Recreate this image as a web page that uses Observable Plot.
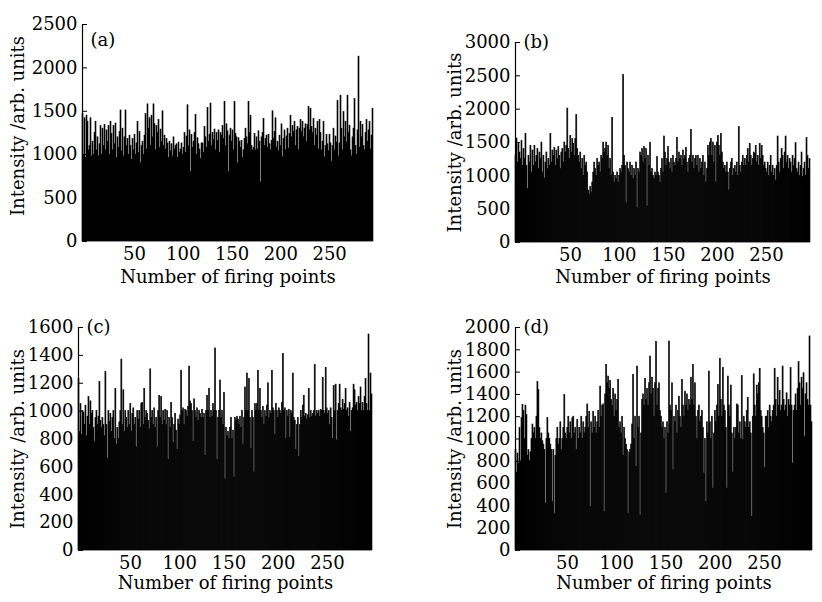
<!DOCTYPE html>
<html><head><meta charset="utf-8">
<script src="https://cdn.jsdelivr.net/npm/d3@7"></script>
<script src="https://cdn.jsdelivr.net/npm/@observablehq/plot@0.6"></script>
<style>
body{margin:0;background:#fff;}
#wrap{position:relative;width:822px;height:602px;overflow:hidden;background:#fff;}
.panel{position:absolute;}
</style></head><body><div id="wrap"></div>
<script>
// ---- data ----
const valuesA = [
1470,1000,1420,960,1450,1380,1050,1100,1420,980,
1150,1000,1250,1380,1050,1200,980,1120,1330,1000,
1300,1100,1340,1050,1280,1150,1330,1000,1380,1240,
1050,1330,1120,1360,960,1200,1080,1260,1510,1040,
1300,980,1200,1510,1100,1180,1000,1220,1100,940,
1180,1050,1230,1000,1130,1380,1020,1260,900,1100,
1150,1000,1220,1470,1060,1580,1300,1420,1100,1450,
1200,1580,1350,1050,1330,1250,1400,1080,1290,1150,
1500,1100,1220,1060,1180,1130,960,1150,1040,1120,
980,1200,1060,1100,1120,960,1140,1020,1060,1130,
1000,1080,1250,1020,1210,1570,1100,1280,800,1230,
1080,1150,1250,1460,1000,1190,1120,1060,950,1130,
1130,1020,1320,1200,1080,1540,1150,1230,1590,1100,
1250,1170,1290,1050,1250,1160,1280,1020,1250,1220,
1330,1180,1610,1100,1350,1270,800,1220,1300,1150,
1280,1050,1610,1240,1200,900,1190,1150,1080,1160,
960,1050,1180,1300,1200,1120,1610,1250,1450,1100,
1050,1080,1240,1050,1200,1060,1270,1150,680,1200,
1250,1410,1100,1180,1220,1080,1230,1120,1050,1160,
1500,1180,1260,1420,1080,1150,1040,1220,1100,1350,
970,1180,1280,1050,1210,1300,1070,1240,1450,1200,
1330,1260,1380,1100,1280,1320,1050,1300,1400,1260,
1380,1200,1300,1350,1150,1340,1550,1280,1530,1320,
1250,1410,1100,1300,1220,1380,1060,1400,1250,1050,
1150,1380,970,1100,1230,1120,1040,1230,1130,920,
1100,1300,1050,1210,1140,1620,980,1130,1680,1300,
1050,1490,1200,1380,1140,1680,1250,1330,1050,980,
1200,1300,1640,1100,1000,1280,2130,1080,1380,1200,
1340,1100,1050,1250,1400,1150,1280,1380,1060,1220,
1530];
const valuesB = [
1300,1560,1200,1480,1350,1250,1520,1150,1400,1260,
1630,1150,800,1300,1200,1450,1050,1380,1150,1450,
1200,1300,1400,1100,1350,1250,1500,1050,1300,960,
1200,1350,1100,1250,1150,1630,1200,1380,1300,1420,
1150,1380,1250,1430,1300,1100,1350,1400,1200,1500,
1350,1450,2010,1400,1250,1600,1350,1550,1480,1300,
1550,1910,1400,1300,1200,1350,1100,1250,1000,1300,
1150,1200,1050,780,720,830,750,900,1050,1200,
1100,1000,1250,1150,1200,1050,1300,1250,1500,1350,
1400,1500,1300,1450,1100,1250,1000,1870,1050,900,
1000,950,1050,900,1000,1100,1050,1150,2510,1300,
1150,590,1200,1100,1050,1200,1000,1150,950,1100,
1000,1200,520,1100,1050,1350,1300,1400,1200,1430,
1250,1400,540,1300,1150,1490,1050,1100,1000,950,
1050,1000,1280,1050,1000,900,1100,1250,1050,1590,
1350,1150,1250,1430,1200,1100,1250,1050,1300,1200,
1150,1250,1570,1200,1350,1250,1300,1150,1380,1250,
1300,1420,1200,1050,1250,1300,1690,1200,1300,1100,
1250,1300,1150,1300,1050,1250,1100,1200,1300,1000,
1200,900,1100,1450,1300,1500,1550,1300,1500,1200,
1450,900,1500,1600,1450,1300,1630,1350,1200,1100,
1150,1050,1200,1050,780,1100,1200,1250,1000,1100,
1150,1050,1200,1000,1730,1150,1050,1200,1300,1150,
1250,1150,1300,1400,1200,1480,1300,1150,1250,1350,
1330,1450,1200,1300,1150,1480,1250,1450,1300,1150,
1200,1100,1050,1200,1000,1150,1300,1050,1150,1000,
1100,930,1150,1590,1200,1050,1250,1400,1300,1100,
1350,1590,1200,1300,1100,1250,1200,1050,1300,1150,
1250,1490,1100,1050,1200,1000,1150,1350,980,1100,
1200,1000,1570,1300,1100,1250];
const valuesC = [
1230,850,1050,830,1000,990,900,1040,820,960,
1100,900,1070,980,1000,880,780,950,1000,900,
960,1210,930,880,950,900,820,1280,900,660,
1000,920,980,850,950,1000,800,1160,760,880,
800,920,1000,1370,900,1150,850,1000,950,880,
1000,900,1050,850,980,1020,900,950,740,1000,
940,1000,880,1050,1060,900,1160,950,1000,980,
930,870,1300,950,1000,900,1020,880,950,740,
1000,1110,950,1100,900,1000,930,1010,900,1000,
650,950,880,1060,950,770,900,980,860,720,
940,900,970,1290,1000,1020,900,1010,1000,960,
1030,1320,1070,1050,1000,780,1085,1000,950,1020,
930,1000,980,950,1010,950,980,680,1000,1110,
1000,1160,950,1000,960,1050,1000,1450,1000,650,
950,1000,1220,950,1000,900,1130,510,880,820,
850,800,880,950,800,860,525,950,930,960,
940,900,960,880,1000,760,950,1170,1000,1270,
1000,1230,950,730,1000,950,560,1050,1000,1050,
1290,1000,1160,1000,950,1030,900,1000,960,1040,
1200,950,1000,980,1290,1020,1000,830,1050,1000,
950,1020,1000,980,1060,1410,1000,1020,800,1000,
960,1010,810,1000,980,1270,950,930,720,900,
950,670,900,1000,950,1040,1110,960,980,940,
970,1160,950,1000,960,980,1000,1330,960,1000,
980,1000,960,1010,1000,1240,1000,980,1310,1020,
980,1000,900,1020,950,800,1180,1000,1190,790,
1000,1050,1190,1020,1000,1080,1010,1050,1160,1000,
1020,960,1060,850,1000,1020,1190,1150,1040,1060,
1000,1100,1050,1170,1000,1060,1000,1100,1230,1050,
1000,1550,1000,1270,1120];
const valuesD = [
900,700,870,780,1100,800,1190,1305,1250,1000,
1300,1215,850,900,800,880,1000,1130,1050,1100,
1000,1200,1510,1440,1100,1000,1050,980,950,900,
420,1000,1190,1050,1000,950,900,435,900,330,
850,1000,1100,950,1000,1150,900,1000,1100,1395,
1050,1000,1100,1200,1050,1150,1000,1185,1200,1050,
1100,900,1170,1000,1100,1050,1200,1000,1150,1050,
1100,1200,1310,1100,1245,390,1150,1050,1245,1100,
1200,1050,1150,1250,1100,1470,1200,1300,1310,345,
1400,1665,1500,1560,1450,1520,1350,1300,1450,1200,
1400,1250,1350,1530,1100,1150,1050,1200,850,1100,
1000,950,900,330,880,900,950,1130,1575,1000,
1200,750,1650,1100,1200,315,1050,1350,1400,1300,
1540,1350,1450,1300,1500,1740,1400,1550,1450,1200,
1500,1870,1300,1450,1500,1250,1200,1100,1150,1000,
1100,510,1150,1050,1875,1300,1250,1500,720,1200,
1150,1300,1050,1250,1380,1200,1100,1530,1300,1200,
1425,1300,1400,1250,1350,1300,1550,1350,1665,1300,
1500,1200,1000,1250,1300,1150,1200,1250,1100,690,
1000,435,1150,1050,1605,1150,1000,1200,555,1050,
1250,1150,1300,1485,1200,1720,1350,1200,1635,1300,
1250,1100,555,1560,1300,1200,1480,1050,700,1100,
1000,1100,1310,1300,1050,1150,1000,1565,990,1200,
1150,1100,1250,1370,1100,1150,1050,300,1200,1580,
1300,1200,1480,1400,1500,1630,1250,1200,1100,1050,
740,1200,1200,1250,1100,1300,1200,1150,1250,1300,
1630,1350,1200,1550,1300,1430,1250,1300,1650,1350,
1250,1300,1410,1200,1350,1300,1635,1300,780,1250,
1300,1400,1250,1450,1690,1500,1300,1550,1450,1590,
1020,1400,1500,1350,1300,1920,1300,1150];

const yTicksA = [0, 500, 1000, 1500, 2000, 2500];
const yTicksB = [0, 500, 1000, 1500, 2000, 2500, 3000];
const yTicksC = [0, 200, 400, 600, 800, 1000, 1200, 1400, 1600];
const yTicksD = [0, 200, 400, 600, 800, 1000, 1200, 1400, 1600, 1800, 2000];
const xTicks = [50, 100, 150, 200, 250];
const panelLabels = ["(a)", "(b)", "(c)", "(d)"];
const xTitle = "Number of firing points";
const yTitle = "Intensity /arb. units";

const FONT = '"DejaVu Serif", "Liberation Serif", serif';
const FS = 18;

function panel(o) {
  const {values, yTicks, xDomain, label, left, top, mL, mR, mT, mB, labelDy} = o;
  const W = 411, H = 301;
  const [lo, hi] = xDomain;
  const step = (hi - lo) / values.length;
  const data = values.map((v, i) => ({x1: lo + i * step, x2: lo + (i + 1) * step, v}));
  const ymax = yTicks[yTicks.length - 1];
  const unitsPerPx = (hi - lo) / (W - mL - mR);
  const chart = Plot.plot({
    width: W, height: H,
    marginLeft: mL, marginRight: mR, marginTop: mT, marginBottom: mB,
    x: {domain: xDomain},
    y: {domain: [0, ymax]},
    style: {fontFamily: FONT, fontSize: FS + "px", color: "#000", background: "transparent", overflow: "visible"},
    marks: [
      Plot.rectY(data, {x1: "x1", x2: "x2", y: "v", fill: "#000", stroke: "#000", strokeWidth: 0.6}),
      Plot.ruleX([lo], {y1: 0, y2: ymax, stroke: "#000", strokeWidth: 1.2}),
      Plot.ruleY(yTicks, {y: d => d, x1: lo, x2: lo + 5 * unitsPerPx, stroke: "#000", strokeWidth: 1}),
      Plot.axisY({ticks: yTicks, tickSize: 0, tickPadding: 5, fontSize: FS, label: null, tickFormat: "d"}),
      Plot.axisX({ticks: xTicks, tickSize: 0, tickPadding: 6, fontSize: FS, label: null, tickFormat: "d"}),
      Plot.text([xTitle], {frameAnchor: "bottom", dy: o.xtDy, fontSize: FS, lineAnchor: "middle", textAnchor: "middle"}),
      Plot.text([yTitle], {frameAnchor: "left", rotate: -90, dx: o.ytDx, dy: o.ytDy || 0, fontSize: FS, lineAnchor: "middle", textAnchor: "middle"}),
      Plot.text([label], {frameAnchor: "top-left", dx: 8, dy: labelDy, textAnchor: "start", lineAnchor: "middle", fontSize: FS})
    ]
  });
  const div = document.createElement("div");
  div.className = "panel";
  div.style.left = left + "px";
  div.style.top = top + "px";
  div.appendChild(chart);
  document.getElementById("wrap").appendChild(div);
}

panel({values: valuesA, yTicks: yTicksA, xDomain: [-3.3, 295], label: panelLabels[0],
  left: 0, top: 0, mL: 82, mR: 38, mT: 24, mB: 60, labelDy: 16, xtDy: 36, ytDx: -64, ytDy: -7});
panel({values: valuesB, yTicks: yTicksB, xDomain: [-6, 295], label: panelLabels[1],
  left: 411, top: 0, mL: 104, mR: 12, mT: 42, mB: 59, labelDy: 0, xtDy: 35, ytDx: -60});
panel({values: valuesC, yTicks: yTicksC, xDomain: [-2.8, 295.7], label: panelLabels[2],
  left: 0, top: 301, mL: 78, mR: 39, mT: 26, mB: 52, labelDy: 0, xtDy: 33, ytDx: -60});
panel({values: valuesD, yTicks: yTicksD, xDomain: [-2.8, 298.7], label: panelLabels[3],
  left: 411, top: 301, mL: 104, mR: 10, mT: 26, mB: 52, labelDy: 0, xtDy: 33, ytDx: -60});
</script></body></html>
